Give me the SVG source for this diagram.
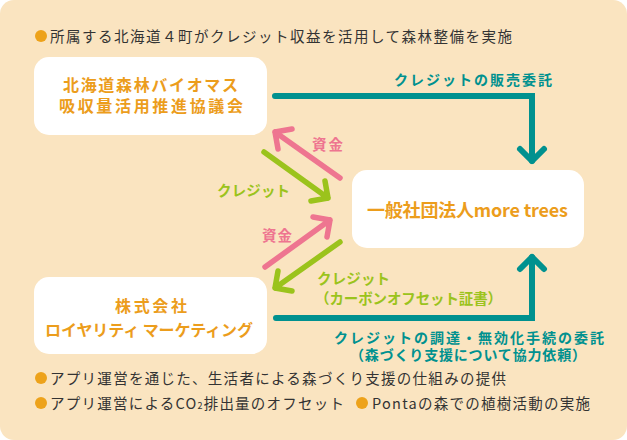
<svg xmlns="http://www.w3.org/2000/svg" width="627" height="440" viewBox="0 0 627 440">
<style>
text{font-family:"Noto Sans CJK JP","Noto Sans",sans-serif;}
.bg{fill:#FAE4C0;}
.box{fill:#FFFFFF;}
.nt{fill:#EC9D1C;font-size:16px;font-weight:bold;}
.dk{fill:#333333;font-size:14.5px;}
.bul{fill:#EDA21A;}
.teal{fill:#00918F;font-size:14px;font-weight:bold;}
.pink{fill:#EE7590;font-size:14.5px;font-weight:bold;}
.green{fill:#9BC31C;font-size:14.5px;font-weight:bold;}
.tl{fill:none;stroke:#00918F;stroke-width:6;stroke-linecap:round;}
.pl{fill:none;stroke:#EE7590;stroke-width:5.5;stroke-linecap:round;stroke-linejoin:round;}
.gl{fill:none;stroke:#9BC31C;stroke-width:5.5;stroke-linecap:round;stroke-linejoin:round;}
</style>
<rect class="bg" x="0" y="0" width="627" height="440" rx="14"/>
<g id="note-top">
<circle class="bul" cx="41" cy="36" r="6"/>
<text class="dk" x="50" y="41.5" textLength="462" lengthAdjust="spacing">所属する北海道４町がクレジット収益を活用して森林整備を実施</text>
</g>
<g id="node-council">
<rect class="box" x="34" y="57" width="233" height="78" rx="15"/>
<text class="nt" x="150.5" y="91.2" text-anchor="middle" textLength="175" lengthAdjust="spacing">北海道森林バイオマス</text>
<text class="nt" x="151" y="112.2" text-anchor="middle" textLength="184" lengthAdjust="spacing">吸収量活用推進協議会</text>
</g>
<g id="node-moretrees">
<rect class="box" x="352" y="170" width="232" height="78" rx="15"/>
<text class="nt" x="367" y="217" style="font-size:18px" textLength="201" lengthAdjust="spacing">一般社団法人more trees</text>
</g>
<g id="node-loyalty">
<rect class="box" x="34" y="277" width="233" height="77" rx="15"/>
<text class="nt" x="151" y="312" text-anchor="middle" textLength="72" lengthAdjust="spacing">株式会社</text>
<text class="nt" x="149" y="336" text-anchor="middle" textLength="208" lengthAdjust="spacing">ロイヤリティ マーケティング</text>
</g>
<g id="connectors">
<path class="tl" d="M275,96 H532 V161" stroke-linejoin="miter"/>
<path class="tl" d="M520,149 L532,161 L544,149" stroke-linejoin="round"/>
<path class="tl" d="M276,318 H532 V257" stroke-linejoin="miter"/>
<path class="tl" d="M520,269 L532,257 L544,269" stroke-linejoin="round"/>
<path class="pl" d="M340,178 L275,132 M278,149 L275,132 L292,129"/>
<path class="gl" d="M264,152 L328,198 M325,181 L328,198 L311,201"/>
<path class="pl" d="M265,267 L330,220 M313,217 L330,220 L327,237"/>
<path class="gl" d="M340,242 L275,288 M292,291 L275,288 L278,271"/>
<text class="teal" x="394" y="85.3" textLength="158" lengthAdjust="spacing">クレジットの販売委託</text>
<text class="pink" x="312" y="149.5" textLength="31" lengthAdjust="spacing">資金</text>
<text class="green" x="217" y="195.5" textLength="73" lengthAdjust="spacing">クレジット</text>
<text class="pink" x="262" y="240.5" textLength="30" lengthAdjust="spacing">資金</text>
<text class="green" x="317" y="283.5" textLength="73" lengthAdjust="spacing">クレジット</text>
<text class="green" x="315" y="303.5" textLength="187" lengthAdjust="spacing">（カーボンオフセット証書）</text>
<text class="teal" x="334" y="343.3" textLength="270" lengthAdjust="spacing">クレジットの調達・無効化手続の委託</text>
<text class="teal" x="350" y="360.3" textLength="236" lengthAdjust="spacing">（森づくり支援について協力依頼）</text>
</g>
<g id="notes-bottom">
<circle class="bul" cx="41" cy="378" r="6"/>
<text class="dk" x="50" y="383.5" textLength="456" lengthAdjust="spacing">アプリ運営を通じた、生活者による森づくり支援の仕組みの提供</text>
<circle class="bul" cx="41" cy="403" r="6"/>
<text class="dk" x="50" y="408.5" textLength="294" lengthAdjust="spacing">アプリ運営によるCO<tspan style="font-size:9px">2</tspan>排出量のオフセット</text>
<circle class="bul" cx="362" cy="403" r="6"/>
<text class="dk" x="372" y="408.5" textLength="218" lengthAdjust="spacing">Pontaの森での植樹活動の実施</text>
</g>
</svg>
